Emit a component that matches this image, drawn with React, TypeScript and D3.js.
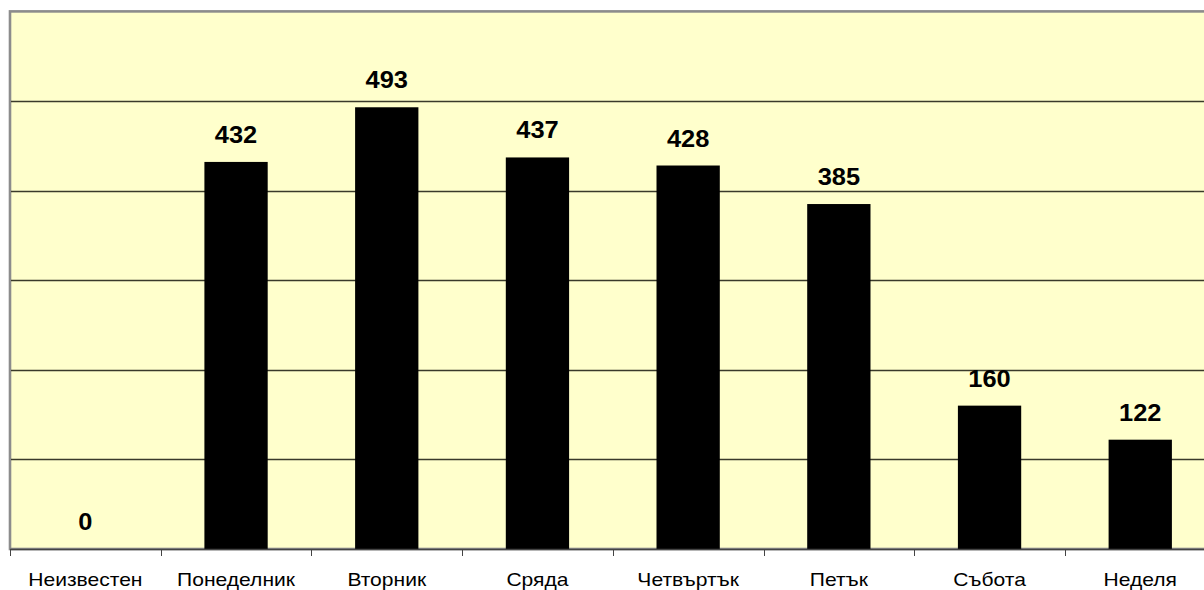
import React from "react";
import * as d3 from "d3";

const categories = ["Неизвестен", "Понеделник", "Вторник", "Сряда", "Четвъртък", "Петък", "Събота", "Неделя"];
const values = [0, 432, 493, 437, 428, 385, 160, 122];
const gridTicks = [100, 200, 300, 400, 500];

const W = 1204;
const H = 590;
const plotLeft = 10;
const plotRight = 1215.6;
const plotTop = 11.4;
const plotBottom = 549;

export default function App() {
  const x = d3
    .scaleBand<string>()
    .domain(categories)
    .range([plotLeft, plotRight])
    .paddingInner(0.58)
    .paddingOuter(0.29);
  const y = d3.scaleLinear().domain([0, 600]).range([plotBottom, plotTop]);
  const step = x.step();
  const font = "'Liberation Sans', Arial, sans-serif";

  return (
    <svg
      width={W}
      height={H}
      style={{ position: "absolute", left: 0, top: 0, background: "#ffffff" }}
    >
      <rect
        x={plotLeft}
        y={plotTop}
        width={plotRight - plotLeft}
        height={plotBottom - plotTop}
        fill="#ffffcc"
        stroke="#8c8c8c"
        strokeWidth={2.6}
      />
      {gridTicks.map((t) => (
        <line
          key={t}
          x1={plotLeft + 1}
          x2={plotRight}
          y1={Math.round(y(t)) + 0.5}
          y2={Math.round(y(t)) + 0.5}
          stroke="#3a3a2a"
          strokeWidth={1.3}
        />
      ))}
      {categories.map((c, i) => (
        <rect
          key={c}
          x={x(c)}
          y={y(values[i])}
          width={x.bandwidth()}
          height={plotBottom - y(values[i])}
          fill="#000000"
        />
      ))}
      <line x1={plotLeft} x2={plotRight} y1={plotBottom + 0.5} y2={plotBottom + 0.5} stroke="#444444" strokeWidth={1.3} />
      {categories.map((c, i) => (
        <line
          key={"t" + c}
          x1={Math.round(plotLeft + i * step) + 0.5}
          x2={Math.round(plotLeft + i * step) + 0.5}
          y1={plotBottom}
          y2={plotBottom + 7}
          stroke="#444444"
          strokeWidth={1}
        />
      ))}
      {categories.map((c, i) => (
        <text
          key={"v" + c}
          transform={`translate(${(x(c) as number) + x.bandwidth() / 2},${y(values[i]) - 19}) scale(1.06,1)`}
          textAnchor="middle"
          fontFamily={font}
          fontWeight="bold"
          fontSize={24}
          fill="#000"
        >
          {values[i]}
        </text>
      ))}
      {categories.map((c) => (
        <text
          key={"l" + c}
          transform={`translate(${(x(c) as number) + x.bandwidth() / 2},586) scale(1.17,1)`}
          textAnchor="middle"
          fontFamily={font}
          fontSize={18}
          fill="#000"
        >
          {c}
        </text>
      ))}
    </svg>
  );
}
